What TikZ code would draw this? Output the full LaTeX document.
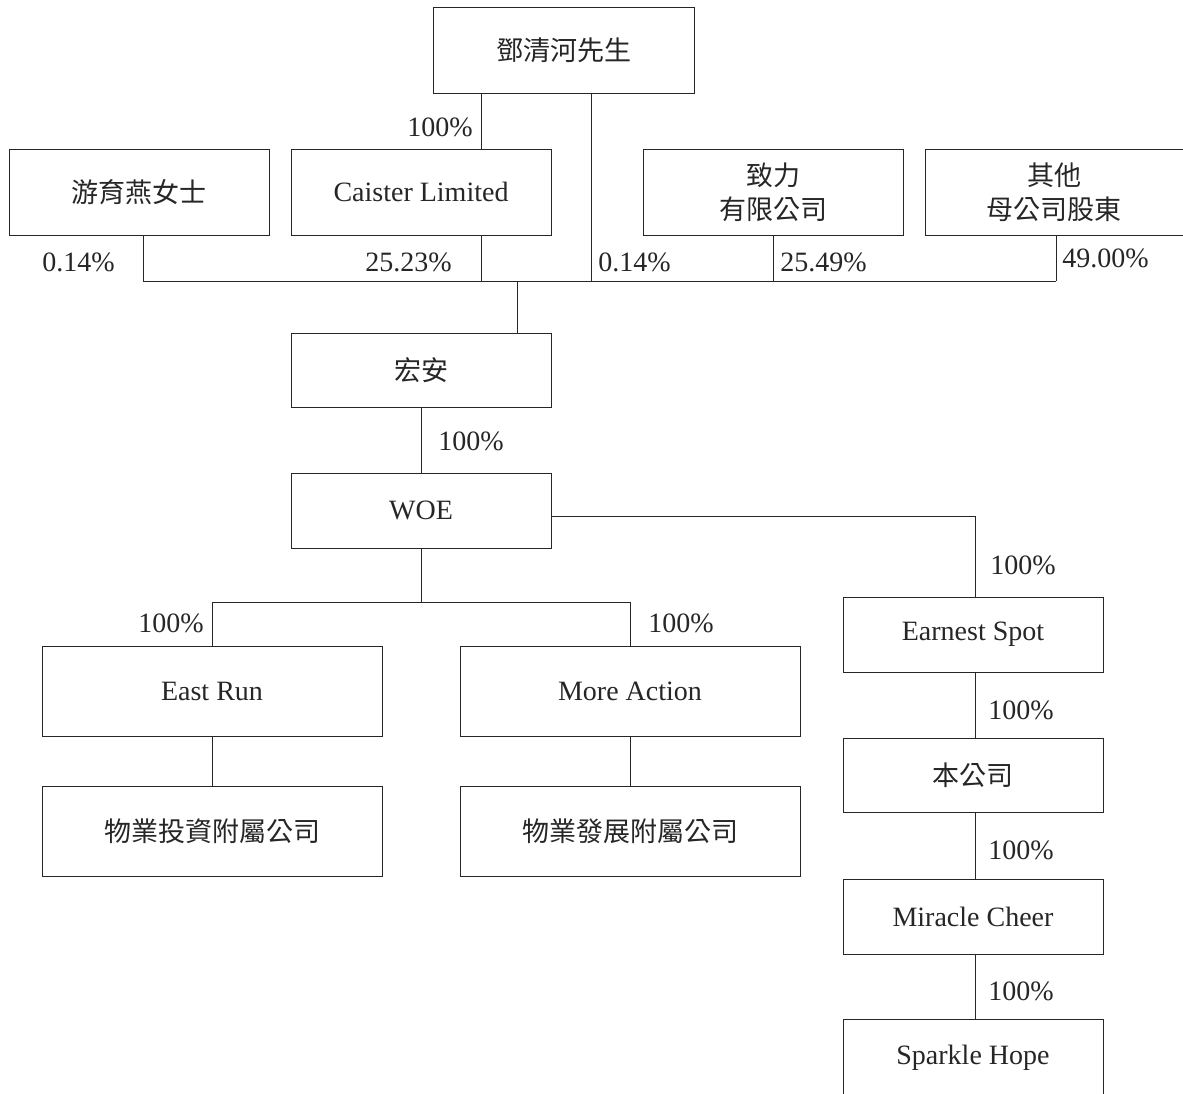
\documentclass[tikz,border=0pt]{standalone}
\usepackage{fontspec}
\setmainfont{Liberation Serif}
\newfontfamily\cjk{Noto Sans CJK TC}
\usetikzlibrary{positioning}

\tikzset{
  entity/.style={draw, line width=1pt, minimum width=260pt, minimum height=75pt, inner sep=0pt, align=center, font=\fontsize{28}{34}\selectfont},
  cjkbox/.style={entity, font=\fontsize{27}{34}\selectfont\cjk},
  pct/.style={inner sep=0pt, font=\fontsize{28}{34}\selectfont}
}

\begin{document}
\begin{tikzpicture}[x=1pt, y=-1pt, line width=0.9pt, color=black!85]
  \useasboundingbox (0,0) rectangle (1183,1093);

  % Shareholders
  \node[cjkbox, minimum width=261pt, minimum height=86pt] (deng) at (563.5,50) {鄧清河先生};
  \node[cjkbox, minimum height=86pt] (you) at (139,192) {游育燕女士};
  \node[entity, minimum height=86pt] (caister) at (421,192) {Caister Limited};
  \node[cjkbox, minimum height=86pt] (zhili) at (773,192) {致力\\有限公司};
  \node[cjkbox, minimum width=258pt, minimum height=86pt] (others) at (1054,192) {其他\\母公司股東};

  % Holding companies
  \node[cjkbox, minimum height=74pt] (hongan) at (421,370) {宏安};
  \node[entity] (woe) at (421,510.5) {WOE};

  % Left branch
  \node[entity, minimum width=340pt, minimum height=90pt] (eastrun) at (212,691) {East Run};
  \node[entity, minimum width=340pt, minimum height=90pt] (moreaction) at (630,691) {More Action};
  \node[cjkbox, minimum width=340pt, minimum height=90pt] (propinv) at (212,831) {物業投資附屬公司};
  \node[cjkbox, minimum width=340pt, minimum height=90pt] (propdev) at (630,831) {物業發展附屬公司};

  % Right branch
  \node[entity] (earnest) at (973,634.5) {Earnest Spot};
  \node[cjkbox, minimum height=74pt] (company) at (973,775) {本公司};
  \node[entity] (miracle) at (973,916.5) {Miracle Cheer};
  \node[entity, minimum height=78pt] (sparkle) at (973,1058) {Sparkle Hope};

  % Junctions
  \coordinate (bar) at (517,281);
  \coordinate (split) at (421,602);

  % Lines into the bar
  \draw ([xshift=60pt]caister.north) -- ([xshift=60pt]caister.north |- deng.south);
  \draw ([xshift=60pt]caister.south) -- ([xshift=60pt]caister.south |- bar);
  \draw ([xshift=27.5pt]deng.south) -- ([xshift=27.5pt]deng.south |- bar);
  \draw ([xshift=4pt]you.south) -- ([xshift=4pt]you.south |- bar);
  \draw (zhili.south) -- (zhili.south |- bar);
  \draw ([xshift=2pt]others.south) -- ([xshift=2pt]others.south |- bar);
  \draw ([xshift=4pt]you.south |- bar) -- ([xshift=2pt]others.south |- bar);
  \draw (bar) -- (bar |- hongan.north);

  % Down the group
  \draw (hongan.south) -- (woe.north);
  \draw ([yshift=-5.5pt]woe.east) -| ([xshift=2pt]earnest.north);
  \draw (woe.south) -- (split);
  \draw (eastrun.north) |- (split) -| (moreaction.north);
  \draw (eastrun.south) -- (propinv.north);
  \draw (moreaction.south) -- (propdev.north);
  \foreach \a/\b/\n in {earnest/company/pcompany, company/miracle/pmiracle, miracle/sparkle/psparkle} {
    \draw ([xshift=2pt]\a.south) -- ([xshift=2pt]\b.north) node[pct, pos=0.58, anchor=west, xshift=13pt] (\n) {100\%};
  }

  % Percentages
  \node[pct, anchor=west] (pdeng) at (407,127) {100\%};
  \node[pct, anchor=west] (pyou) at (42,262) {0.14\%};
  \node[pct, anchor=west] (pcaister) at (365,262) {25.23\%};
  \node[pct, anchor=west] (pself) at (598,262) {0.14\%};
  \node[pct, anchor=west] (pzhili) at (780,262) {25.49\%};
  \node[pct, anchor=west] (pothers) at (1062,258) {49.00\%};
  \node[pct, anchor=west] (phongan) at (438,441) {100\%};
  \node[pct, anchor=west] (pearnest) at (990,565) {100\%};
  \node[pct, anchor=west] (peast) at (138,623) {100\%};
  \node[pct, anchor=west] (pmore) at (648,623) {100\%};
\end{tikzpicture}
\end{document}
